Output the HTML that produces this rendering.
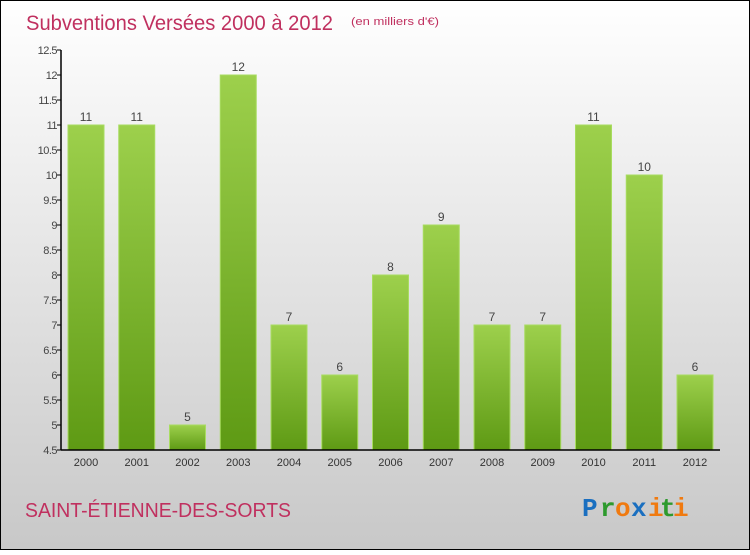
<!DOCTYPE html>
<html><head><meta charset="utf-8"><style>
body{margin:0;width:750px;height:550px;overflow:hidden;font-family:"Liberation Sans",sans-serif}
</style></head><body>
<svg id="chart" width="750" height="550" xmlns="http://www.w3.org/2000/svg">
<defs>
<linearGradient id="bg" x1="0" y1="0" x2="0" y2="1"><stop offset="0" stop-color="#ffffff"/><stop offset="1" stop-color="#c8c8c8"/></linearGradient>
<linearGradient id="bar" x1="0" y1="0" x2="0" y2="1"><stop offset="0" stop-color="#9dd04c"/><stop offset="1" stop-color="#5e9a14"/></linearGradient>
</defs>
<rect x="0.5" y="0.5" width="749" height="549" fill="url(#bg)" stroke="#000"/>
<text x="26" y="30" font-size="21" fill="#c0305f" textLength="307" lengthAdjust="spacingAndGlyphs">Subventions Versées 2000 à 2012</text>
<text x="351" y="25" font-size="11" fill="#c0305f" textLength="88" lengthAdjust="spacingAndGlyphs">(en milliers d'€)</text>
<g id="plot"></g>
<text x="25" y="517" font-size="20" fill="#c0305f" textLength="266" lengthAdjust="spacingAndGlyphs">SAINT-ÉTIENNE-DES-SORTS</text>
<g font-size="26" font-weight="bold" font-family="Liberation Mono, monospace">
<text x="582" y="516" fill="#1a6fc0">P</text><text x="600" y="516" fill="#2d9a2d">r</text><text x="615" y="516" fill="#f07a10">o</text><text x="631" y="516" fill="#1a6fc0">x</text><text x="648" y="516" fill="#f07a10">i</text><text x="660" y="516" fill="#2d9a2d">t</text><text x="673" y="516" fill="#f07a10">i</text>
</g>
</svg>
<script>
const categories=["2000","2001","2002","2003","2004","2005","2006","2007","2008","2009","2010","2011","2012"];
const values=[11,11,5,12,7,6,8,9,7,7,11,10,6];
const yTicks=[4.5,5,5.5,6,6.5,7,7.5,8,8.5,9,9.5,10,10.5,11,11.5,12,12.5];
(function(){
const NS="http://www.w3.org/2000/svg";
const g=document.getElementById('plot');
const yMin=4.5,yMax=12.5,pTop=50,pBot=450,pLeft=61,pRight=720;
const y=v=>pBot-(v-yMin)/(yMax-yMin)*(pBot-pTop);
const step=(pRight-pLeft-50)/(categories.length-1);
const x=i=>pLeft+25+step*i;
function mk(t,a,txt){const e=document.createElementNS(NS,t);for(const k in a)e.setAttribute(k,a[k]);if(txt!=null)e.textContent=txt;g.appendChild(e);return e;}
values.forEach((v,i)=>{
 const r=mk('rect',{x:x(i)-18,y:y(v),width:36,height:pBot-y(v),fill:'url(#bar)',stroke:'#a8dc60','stroke-width':1});
 
 
 const t=mk('text',{x:x(i),y:y(v)-4,'text-anchor':'middle','font-size':12,fill:'#444'},String(v));
 
 
 const c=mk('text',{x:x(i),y:pBot+16,'text-anchor':'middle','font-size':11,fill:'#333'},categories[i]);
 
 
});
yTicks.forEach(v=>{
 const l=mk('line',{x1:pLeft-4,x2:pLeft,y1:y(v),y2:y(v),stroke:'#000'});
 
 
 const t=mk('text',{x:pLeft-4,y:y(v)+4,'text-anchor':'end','font-size':11,fill:'#444','letter-spacing':'-0.5'},String(v));
 
 
});
const ya=mk('line',{x1:pLeft,x2:pLeft,y1:pTop,y2:pBot,stroke:'#000','stroke-width':1.5});


const xa=mk('line',{x1:pLeft,x2:pRight,y1:pBot,y2:pBot,stroke:'#000','stroke-width':1.5});


})();
</script>
</body></html>
